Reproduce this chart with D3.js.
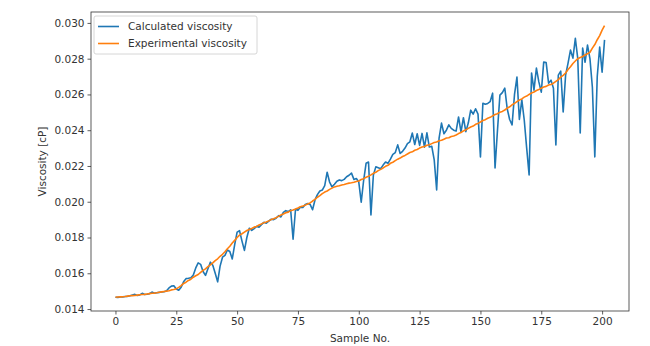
<!DOCTYPE html>
<html>
<head>
<meta charset="utf-8">
<script src="https://cdn.jsdelivr.net/npm/d3@7"></script>
<style>
  body { margin: 0; background: #fff; }
  svg { display: block; font-family: "DejaVu Sans", sans-serif; }
</style>
</head>
<body>
<svg width="650" height="346"></svg>
<script>
// tick values
const xTicks = [0, 25, 50, 75, 100, 125, 150, 175, 200];
const yTicks = [0.014, 0.016, 0.018, 0.020, 0.022, 0.024, 0.026, 0.028, 0.030];

// experimental viscosity, sample 0..201
const experimental = [
  0.01466, 0.01467, 0.01468, 0.01469, 0.01470, 0.01472, 0.01474, 0.01475, 0.01476, 0.01478,
  0.01480, 0.01481, 0.01482, 0.01484, 0.01486, 0.01488, 0.01489, 0.01491, 0.01494, 0.01496,
  0.01498, 0.01500, 0.01502, 0.01507, 0.01509, 0.01513, 0.01521, 0.01531, 0.01543, 0.01550,
  0.01560, 0.01567, 0.01578, 0.01586, 0.01593, 0.01605, 0.01616, 0.01625, 0.01637, 0.01647,
  0.01658, 0.01671, 0.01681, 0.01695, 0.01706, 0.01720, 0.01737, 0.01751, 0.01769, 0.01784,
  0.01800, 0.01813, 0.01821, 0.01830, 0.01839, 0.01845, 0.01850, 0.01858, 0.01862, 0.01870,
  0.01876, 0.01883, 0.01887, 0.01893, 0.01900, 0.01905, 0.01911, 0.01918, 0.01926, 0.01931,
  0.01938, 0.01942, 0.01950, 0.01954, 0.01959, 0.01965, 0.01972, 0.01976, 0.01981, 0.01987,
  0.01993, 0.02004, 0.02013, 0.02025, 0.02034, 0.02045, 0.02054, 0.02060, 0.02069, 0.02076,
  0.02083, 0.02087, 0.02089, 0.02094, 0.02096, 0.02100, 0.02104, 0.02106, 0.02109, 0.02113,
  0.02116, 0.02124, 0.02129, 0.02137, 0.02142, 0.02150, 0.02159, 0.02165, 0.02174, 0.02181,
  0.02189, 0.02198, 0.02204, 0.02215, 0.02221, 0.02230, 0.02238, 0.02244, 0.02253, 0.02259,
  0.02267, 0.02275, 0.02279, 0.02288, 0.02292, 0.02300, 0.02306, 0.02309, 0.02316, 0.02319,
  0.02325, 0.02331, 0.02334, 0.02341, 0.02344, 0.02350, 0.02356, 0.02358, 0.02365, 0.02368,
  0.02373, 0.02381, 0.02387, 0.02396, 0.02402, 0.02410, 0.02418, 0.02423, 0.02433, 0.02438,
  0.02446, 0.02454, 0.02459, 0.02467, 0.02472, 0.02480, 0.02488, 0.02492, 0.02501, 0.02505,
  0.02513, 0.02523, 0.02531, 0.02542, 0.02550, 0.02560, 0.02569, 0.02575, 0.02585, 0.02591,
  0.02600, 0.02608, 0.02613, 0.02622, 0.02627, 0.02635, 0.02642, 0.02645, 0.02653, 0.02656,
  0.02663, 0.02673, 0.02683, 0.02697, 0.02707, 0.02720, 0.02739, 0.02755, 0.02773, 0.02787,
  0.02800, 0.02807, 0.02812, 0.02821, 0.02827, 0.02836, 0.02859, 0.02879, 0.02906, 0.02929,
  0.02960, 0.02985
];

// calculated viscosity, sample 0..201
const calculated = [
  0.01466, 0.01465, 0.01467, 0.01468, 0.01470, 0.01471, 0.01474, 0.01478, 0.01482, 0.01476,
  0.01479, 0.01488, 0.01481, 0.01483, 0.01486, 0.01495, 0.01489, 0.01491, 0.01493, 0.01495,
  0.01497, 0.01502, 0.01518, 0.01528, 0.01530, 0.01512, 0.01505, 0.01522, 0.01552, 0.01570,
  0.01572, 0.01575, 0.01590, 0.01630, 0.01658, 0.01650, 0.01610, 0.01588, 0.01625, 0.01662,
  0.01645, 0.01600, 0.01552, 0.01640, 0.01690, 0.01700, 0.01730, 0.01722, 0.01680, 0.01760,
  0.01830, 0.01838, 0.01780, 0.01728, 0.01800, 0.01852, 0.01840, 0.01850, 0.01862, 0.01858,
  0.01872, 0.01885, 0.01880, 0.01892, 0.01902, 0.01900, 0.01908, 0.01922, 0.01915, 0.01940,
  0.01950, 0.01945, 0.01955, 0.01790, 0.01958, 0.01952, 0.01970, 0.01968, 0.01985, 0.01990,
  0.01985, 0.01955, 0.02010, 0.02040, 0.02060, 0.02065, 0.02090, 0.02165, 0.02110, 0.02083,
  0.02098, 0.02115, 0.02122, 0.02118, 0.02125, 0.02140, 0.02148, 0.02160, 0.02125, 0.02130,
  0.02110, 0.01998, 0.02120, 0.02215, 0.02222, 0.01926, 0.02150, 0.02195, 0.02190, 0.02185,
  0.02205, 0.02222, 0.02215, 0.02238, 0.02265, 0.02275, 0.02318, 0.02270, 0.02282, 0.02300,
  0.02325, 0.02335, 0.02384, 0.02320, 0.02380, 0.02315, 0.02382, 0.02305, 0.02385, 0.02306,
  0.02310, 0.02234, 0.02066, 0.02356, 0.02440, 0.02380, 0.02400, 0.02430, 0.02410, 0.02400,
  0.02395, 0.02474, 0.02390, 0.02470, 0.02392, 0.02440, 0.02512, 0.02490, 0.02520, 0.02490,
  0.02251, 0.02551, 0.02545, 0.02550, 0.02560, 0.02607, 0.02189, 0.02400, 0.02596, 0.02610,
  0.02635, 0.02520, 0.02460, 0.02430, 0.02600, 0.02697, 0.02460, 0.02570, 0.02457, 0.02300,
  0.02150, 0.02720, 0.02624, 0.02747, 0.02670, 0.02613, 0.02781, 0.02778, 0.02663, 0.02680,
  0.02635, 0.02317, 0.02708, 0.02730, 0.02502, 0.02708, 0.02775, 0.02848, 0.02803, 0.02914,
  0.02800, 0.02384, 0.02859, 0.02780, 0.02876, 0.02800, 0.02640, 0.02251, 0.02700, 0.02865,
  0.02725, 0.02905
];

const svg = d3.select("svg");
const margin = {left: 91, top: 12, right: 21, bottom: 35};
const width = 650 - margin.left - margin.right,
      height = 346 - margin.top - margin.bottom;
const fontSize = "10.5px";

const n = calculated.length;
const allVals = calculated.concat(experimental);
const yMin = d3.min(allVals), yMax = d3.max(allVals);
const xPad = (n - 1) * 0.05, yPad = (yMax - yMin) * 0.05;

const x = d3.scaleLinear().domain([-xPad, n - 1 + xPad]).range([0, width]);
const y = d3.scaleLinear().domain([yMin - yPad, yMax + yPad]).range([height, 0]);

const g = svg.append("g").attr("transform", `translate(${margin.left},${margin.top})`);

// axes
const xAxis = g.append("g")
    .attr("transform", `translate(0,${height})`)
    .call(d3.axisBottom(x).tickValues(xTicks).tickSize(3.5).tickPadding(3).tickFormat(d3.format("d")));
const yAxis = g.append("g")
    .call(d3.axisLeft(y).tickValues(yTicks).tickSize(3.5).tickPadding(3).tickFormat(d3.format(".3f")));

[xAxis, yAxis].forEach(a => {
  a.select(".domain").remove();
  a.selectAll("line").attr("stroke", "#333").attr("stroke-width", 0.8);
  a.selectAll("text").attr("font-size", fontSize).attr("fill", "#333")
    .attr("font-family", "DejaVu Sans, sans-serif");
});

// lines
const line = d3.line().x((d, i) => x(i)).y(d => y(d));

g.append("path")
    .datum(calculated)
    .attr("fill", "none")
    .attr("stroke", "#1f77b4")
    .attr("stroke-width", 1.6)
    .attr("stroke-linejoin", "round")
    .attr("d", line);

g.append("path")
    .datum(experimental)
    .attr("fill", "none")
    .attr("stroke", "#ff7f0e")
    .attr("stroke-width", 1.6)
    .attr("stroke-linejoin", "round")
    .attr("d", line);

// frame
g.append("rect")
    .attr("width", width).attr("height", height)
    .attr("fill", "none").attr("stroke", "#333").attr("stroke-width", 0.8);

// axis labels
svg.append("text")
    .attr("x", margin.left + width / 2).attr("y", 342)
    .attr("text-anchor", "middle").attr("font-size", fontSize).attr("fill", "#333")
    .text("Sample No.");

svg.append("text")
    .attr("transform", `translate(46,${margin.top + height / 2}) rotate(-90)`)
    .attr("text-anchor", "middle").attr("font-size", fontSize).attr("fill", "#333")
    .text("Viscosity [cP]");

// legend
const series = [
  {name: "Calculated viscosity", color: "#1f77b4"},
  {name: "Experimental viscosity", color: "#ff7f0e"}
];
const legend = g.append("g").attr("transform", "translate(3,4)");
legend.append("rect")
    .attr("width", 163).attr("height", 38).attr("rx", 2)
    .attr("fill", "#fff").attr("fill-opacity", 0.8)
    .attr("stroke", "#ccc").attr("stroke-width", 0.8);
series.forEach((s, i) => {
  const row = legend.append("g").attr("transform", `translate(0,${10.5 + i * 17})`);
  row.append("line").attr("x1", 4).attr("x2", 25)
      .attr("stroke", s.color).attr("stroke-width", 1.6);
  row.append("text").attr("x", 34).attr("dy", "0.35em")
      .attr("font-size", fontSize).attr("fill", "#333").text(s.name);
});
</script>
</body>
</html>
